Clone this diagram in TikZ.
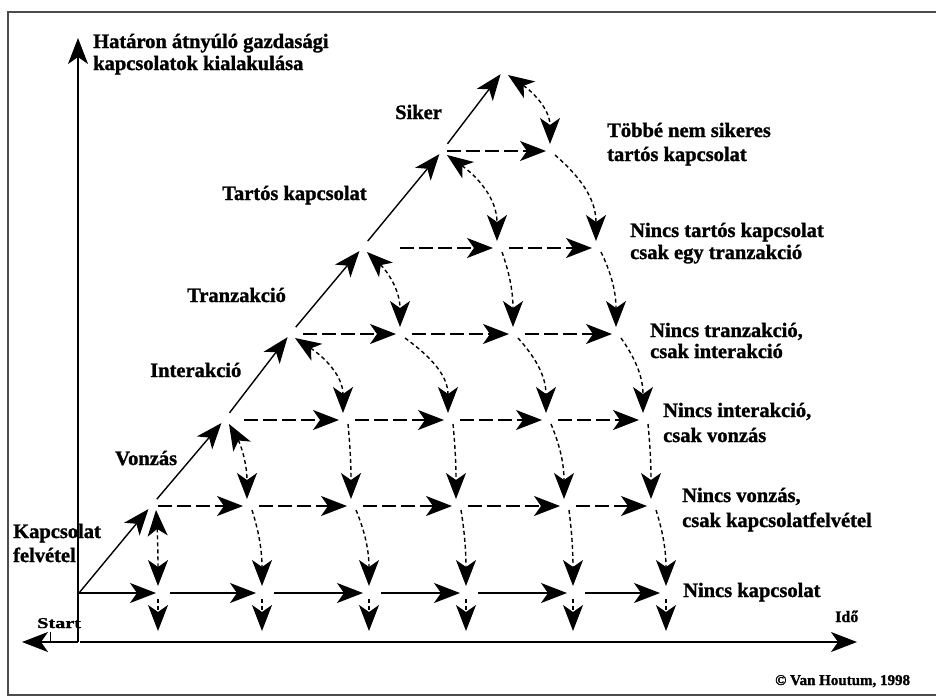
\documentclass[tikz,border=0pt]{standalone}
\usepackage{fontspec}
\setmainfont{Liberation Serif}[BoldFeatures={FakeBold=1.3}]
\usepackage{graphicx}
\usetikzlibrary{arrows.meta,calc}
\newcommand\dotcurve[3][->]{%
  \draw[dotln,#1] let \p1=([shift={(5,4)}]#2), \p2=([shift={(0,-7)}]#3) in
    (\p1) .. controls (\x1+0.6*\x2-0.6*\x1, \y1+0.25*\y2-0.25*\y1)
              and (\x2, \y2+0.5*\y1-0.5*\y2) .. (\p2);}
\begin{document}
\begin{tikzpicture}[x=1pt,y=-1pt,
  >={Stealth[length=26pt,width=20pt,inset=7pt]},
  solidln/.style={line width=1.4pt},
  dashln/.style={line width=1.6pt,dash pattern=on 14pt off 5pt},
  dotln/.style={line width=1.4pt,dash pattern=on 4pt off 3pt},
  axisln/.style={line width=1.4pt},
  framec/.style={draw=black!70,line width=1.5pt},
  lbl/.style={font=\bfseries\fontsize{20.5}{#1}\selectfont,anchor=base west,inner sep=0pt,align=left},
  lbl/.default=23]
\useasboundingbox (0,0) rectangle (936,697);
\fill[white] (0,0) rectangle (936,697);
\draw[framec] (8,12) rectangle (950,695);

% axes
\coordinate (O) at (78,642);
\coordinate (O2) at (80,642);
\coordinate (ytop) at (78,38);
\coordinate (xend) at (857,642);
\coordinate (xleft) at (22,642);
\coordinate (tk1) at (50,632);
\coordinate (tk2) at (50,642);
\draw[axisln,->] (O) -- (ytop);
\draw[axisln,->] (O) -- (xleft);
\draw[axisln,->] (O2) -- (xend);
\draw[line width=1pt] (tk1) -- (tk2);

% lattice points
\coordinate (r0c0) at (79,593);
\coordinate (r0c1) at (158,593);
\coordinate (r0c2) at (262,593);
\coordinate (r0c3) at (369,593);
\coordinate (r0c4) at (466,593);
\coordinate (r0c5) at (573,593);
\coordinate (r0c6) at (666,593);
\coordinate (r1c0) at (151,506);
\coordinate (r1c1) at (247,506);
\coordinate (r1c2) at (351,506);
\coordinate (r1c3) at (456,506);
\coordinate (r1c4) at (564,506);
\coordinate (r1c5) at (651,506);
\coordinate (r2c0) at (224,420);
\coordinate (r2c1) at (343,420);
\coordinate (r2c2) at (448,420);
\coordinate (r2c3) at (546,420);
\coordinate (r2c4) at (643,420);
\coordinate (r3c0) at (290,334);
\coordinate (r3c1) at (400,334);
\coordinate (r3c2) at (513,334);
\coordinate (r3c3) at (616,334);
\coordinate (r4c0) at (362,248);
\coordinate (r4c1) at (497,248);
\coordinate (r4c2) at (596,248);
\coordinate (r5c0) at (442,151);
\coordinate (r5c1) at (550,151);
\coordinate (r6c0) at (503,71);

% diagonal
\draw[solidln,->,shorten >=4pt] (r0c0) -- (r1c0);
\foreach \a/\b in {1/2,2/3,3/4,4/5,5/6}
  \draw[solidln,->,shorten <=9pt,shorten >=4pt] (r\a c0) -- (r\b c0);

% bottom row (solid)
\draw[solidln,->,shorten >=2pt] (r0c0) -- (r0c1);
\foreach \a/\b in {1/2,2/3,3/4,4/5,5/6}
  \draw[solidln,->,shorten <=12pt,shorten >=6pt] (r0c\a) -- (r0c\b);

% dashed rows
\foreach \k/\g in {1/7,2/20,3/13,4/38,5/5}
  \draw[dashln,->,shorten <=\g pt,shorten >=4pt] (r\k c0) -- (r\k c1);
\foreach \k/\a/\b in {1/1/2,1/2/3,1/3/4,1/4/5,2/1/2,2/2/3,2/3/4,3/1/2,3/2/3,4/1/2}
  \draw[dashln,->,shorten <=12pt,shorten >=4pt] (r\k c\a) -- (r\k c\b);

% dotted curves
\foreach \k/\j/\kk/\jj in {1/0/0/1,2/0/1/1,3/0/2/1,4/0/3/1,5/0/4/1,6/0/5/1}
  \dotcurve[<->]{r\k c\j}{r\kk c\jj};
\foreach \k/\j/\kk/\jj in {1/1/0/2,1/2/0/3,1/3/0/4,1/4/0/5,1/5/0/6,
    2/1/1/2,2/2/1/3,2/3/1/4,2/4/1/5,
    3/1/2/2,3/2/2/3,3/3/2/4,
    4/1/3/2,4/2/3/3,
    5/1/4/2}
  \dotcurve{r\k c\j}{r\kk c\jj};

% down arrows below bottom row
\foreach \j in {1,...,6}
  \draw[dotln,->] ([shift={(0,6)}]r0c\j) -- ([shift={(0,38)}]r0c\j);

% labels (multi-line nodes: base = baseline of last line)
\node[lbl=22] (ylab) at (93,70) {Határon átnyúló gazdasági\\kapcsolatok kialakulása};
\node[lbl] (siker) at (395,119) {Siker};
\node[lbl] (tartos) at (222,200) {Tartós kapcsolat};
\node[lbl] (tranz) at (187,302) {Tranzakció};
\node[lbl] (inter) at (150,377) {Interakció};
\node[lbl] (vonz) at (115,465) {Vonzás};
\node[lbl=24] (kapcs) at (13,562) {Kapcsolat\\felvétel};
\node[anchor=base west,inner sep=0pt,font=\bfseries\fontsize{15}{17}\selectfont] (start) at (37,628) {\scalebox{1.35}[1]{Start}};
\node[anchor=base west,inner sep=0pt,font=\bfseries\fontsize{16}{18}\selectfont] (ido) at (835,622) {Idő};
\node[lbl=24] (l6) at (607,161) {Többé nem sikeres\\tartós kapcsolat};
\node[lbl=22] (l5) at (630,259) {Nincs tartós kapcsolat\\csak egy tranzakció};
\node[lbl=21] (l4) at (650,358) {Nincs tranzakció,\\csak interakció};
\node[lbl=25] (l3) at (663,442) {Nincs interakció,\\csak vonzás};
\node[lbl=25] (l2) at (682,527) {Nincs vonzás,\\csak kapcsolatfelvétel};
\node[lbl] (l1) at (683,597) {Nincs kapcsolat};
\node[anchor=base west,inner sep=0pt,font=\bfseries\fontsize{15}{17}\selectfont] (copy) at (775,685) {© Van Houtum, 1998};
\end{tikzpicture}
\end{document}
